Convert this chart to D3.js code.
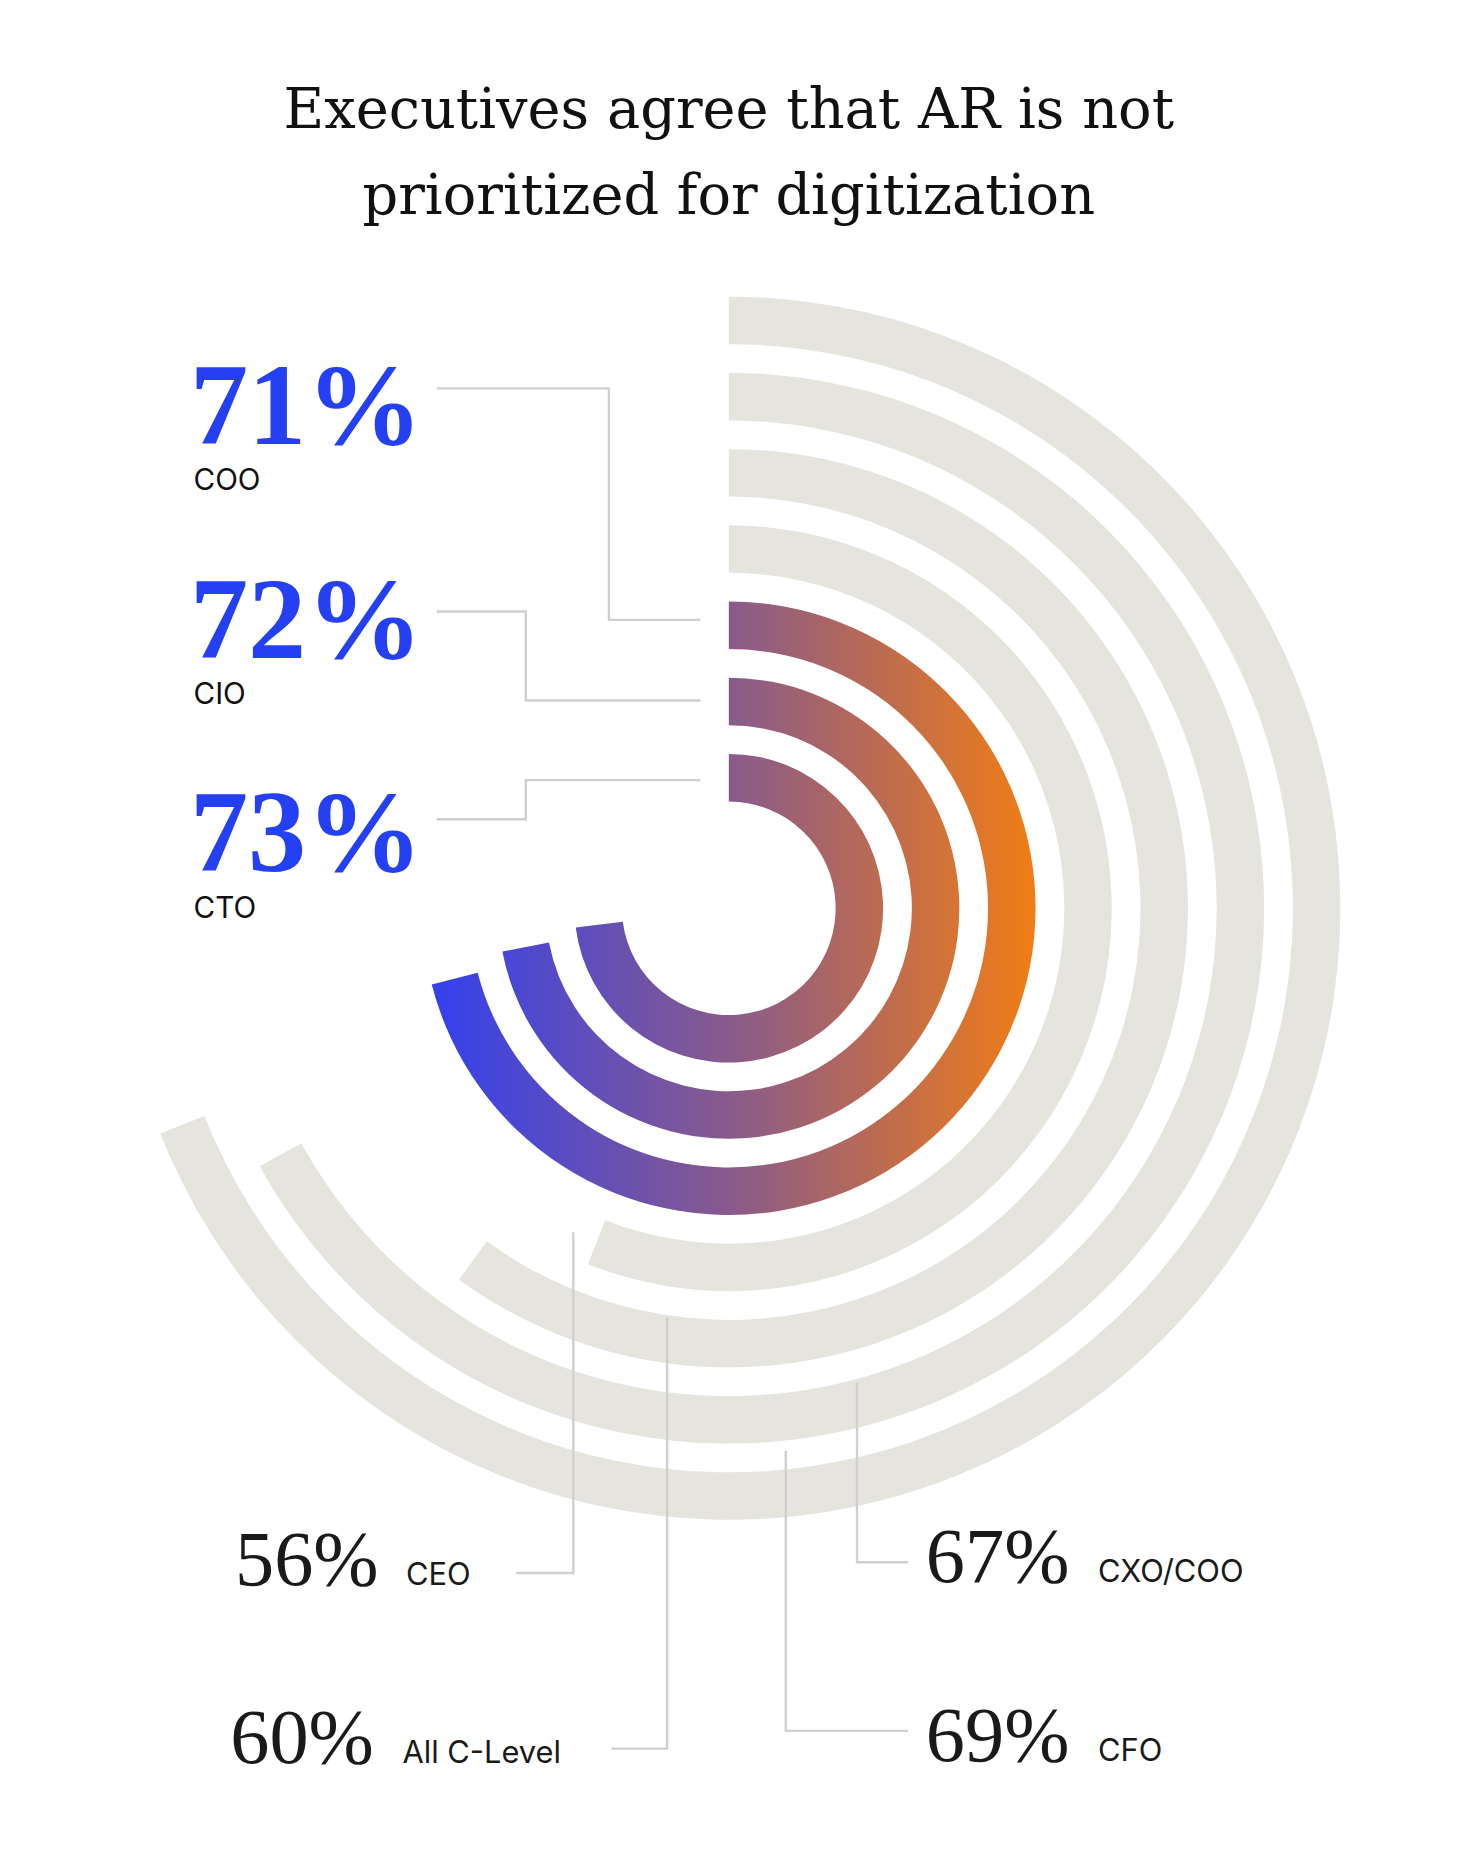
<!DOCTYPE html>
<html lang="en">
<head>
<meta charset="UTF-8">
<title>AR digitization</title>
<style>
 body { margin: 0; background: #fff; }
</style>
</head>
<body>
<svg id="chart" width="1460" height="1864" viewBox="0 0 1230 1570"></svg>
<script src="https://cdn.jsdelivr.net/npm/d3@7"></script>
<script>
// rings from innermost to outermost
var roles = ["CTO", "CIO", "COO", "CEO", "All C-Level", "CXO/COO", "CFO"];
var values = [73, 72, 71, 56, 60, 67, 69];
var highlight = [true, true, true, false, false, false, false];

var svg = d3.select("#chart");
var cx = 614, cy = 765;
var inner0 = 90, band = 40, pitch = 64.2;

var angle = d3.scaleLinear().domain([0, 100]).range([0, 2 * Math.PI]);

// gradient for highlighted rings (coords relative to the ring group)
var defs = svg.append("defs");
var grad = defs.append("linearGradient").attr("id", "hot")
  .attr("gradientUnits", "userSpaceOnUse")
  .attr("x1", -250).attr("y1", 0).attr("x2", 260).attr("y2", 0);
grad.append("stop").attr("offset", 0).attr("stop-color", "#3340ee");
grad.append("stop").attr("offset", 0.5).attr("stop-color", "#8a5b8a");
grad.append("stop").attr("offset", 1).attr("stop-color", "#f27d14");

var arc = d3.arc()
  .innerRadius(function(d, i){ return inner0 + pitch * i })
  .outerRadius(function(d, i){ return inner0 + pitch * i + band })
  .startAngle(0)
  .endAngle(function(d){ return angle(d) });

svg.append("g").attr("transform", "translate(" + cx + "," + cy + ")")
  .selectAll("path").data(values).enter().append("path")
  .attr("d", function(d, i){ return arc(d, i) })
  .attr("fill", function(d, i){ return highlight[i] ? "url(#hot)" : "#e5e4df" });

// title
var title = svg.append("text").attr("x", cx).attr("text-anchor", "middle")
  .style("font-family", "'DejaVu Serif', 'Liberation Serif', serif")
  .style("font-size", "47px").attr("fill", "#111");
title.append("tspan").attr("x", cx).attr("y", 108).text("Executives agree that AR is not");
title.append("tspan").attr("x", cx).attr("y", 180).text("prioritized for digitization");

var serif = "'Liberation Serif', 'DejaVu Serif', serif";
var sans = "Inter, 'Liberation Sans', sans-serif";

// left (blue) labels
var bigLabels = [
  { role: "COO", y: 374 },
  { role: "CIO", y: 554 },
  { role: "CTO", y: 734 }
];
bigLabels.forEach(function(b){
  var v = values[roles.indexOf(b.role)];
  svg.append("text").attr("x", 160).attr("y", b.y)
    .style("font-family", serif).style("font-size", "98px").style("font-weight", 600)
    .attr("fill", "#2440f2").text(v + "%");
  svg.append("text").attr("x", 163).attr("y", b.y + 39)
    .style("font-family", sans).style("font-size", "25px")
    .attr("fill", "#111").text(b.role);
});

// bottom labels
var smallLabels = [
  { role: "CEO", x: 198, y: 1335, lx: 342 },
  { role: "All C-Level", x: 194, y: 1485, lx: 339 },
  { role: "CXO/COO", x: 780, y: 1333, lx: 925 },
  { role: "CFO", x: 780, y: 1483, lx: 925 }
];
smallLabels.forEach(function(b){
  var v = values[roles.indexOf(b.role)];
  svg.append("text").attr("x", b.x).attr("y", b.y)
    .style("font-family", serif).style("font-size", "66px")
    .attr("fill", "#1a1a1a").text(v + "%");
  svg.append("text").attr("x", b.lx).attr("y", b.y)
    .style("font-family", sans).style("font-size", "26px")
    .attr("fill", "#1a1a1a").text(b.role);
});

// leader lines
var leaders = [
  [[368,327],[513,327],[513,522],[590,522]],
  [[368,515],[443,515],[443,590],[590,590]],
  [[368,690],[443,690],[443,657],[590,657]],
  [[435,1325],[483,1325],[483,1038]],
  [[515,1473],[562,1473],[562,1110]],
  [[722,1165],[722,1316],[765,1316]],
  [[662,1222],[662,1458],[765,1458]]
];
svg.selectAll("path.leader").data(leaders).enter().append("path")
  .attr("class", "leader")
  .attr("d", d3.line())
  .attr("fill", "none").attr("stroke", "#cfcfcf").attr("stroke-width", 2);
</script>
</body>
</html>
